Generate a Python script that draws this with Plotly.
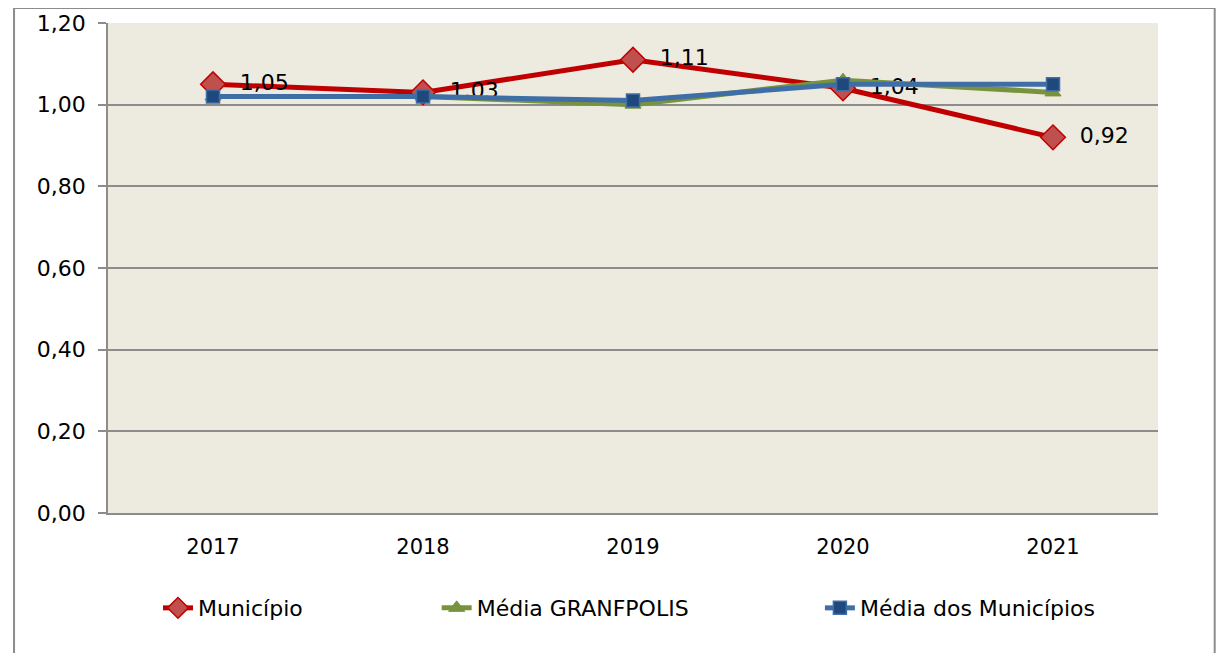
import plotly.graph_objects as go

# --- dados ---------------------------------------------------------------
anos = ["2017", "2018", "2019", "2020", "2021"]
municipio = [1.05, 1.03, 1.11, 1.04, 0.92]
media_granfpolis = [1.02, 1.02, 1.00, 1.06, 1.03]
media_municipios = [1.02, 1.02, 1.01, 1.05, 1.05]
rotulos_municipio = ["1,05", "1,03", "1,11", "1,04", "0,92"]
y_ticks = [0, 0.2, 0.4, 0.6, 0.8, 1.0, 1.2]
y_ticklabels = ["0,00", "0,20", "0,40", "0,60", "0,80", "1,00", "1,20"]

FONT = "DejaVu Sans, sans-serif"
NB = "\u00a0"

fig = go.Figure()

fig.add_trace(go.Scatter(
    x=anos, y=municipio, name="Município", mode="lines+markers+text",
    text=[NB * 2 + t for t in rotulos_municipio], textposition="middle right",
    textfont=dict(family=FONT, size=22, color="black"),
    line=dict(color="#C00000", width=5),
    marker=dict(symbol="diamond", size=19, color="#C0504D",
                line=dict(color="#C00000", width=1.5)),
    legend="legend",
))
fig.add_trace(go.Scatter(
    x=anos, y=media_granfpolis, name="Média GRANFPOLIS", mode="lines+markers",
    line=dict(color="#77933C", width=5),
    marker=dict(symbol="triangle-up", size=14, color="#77933C",
                line=dict(color="#77933C", width=1)),
    legend="legend2",
))
fig.add_trace(go.Scatter(
    x=anos, y=media_municipios, name="Média dos Municípios", mode="lines+markers",
    line=dict(color="#3F6EA6", width=5),
    marker=dict(symbol="square", size=13, color="#1F497D",
                line=dict(color="#3F6EA6", width=1.5)),
    legend="legend3",
))

# moldura externa do gráfico
fig.add_shape(type="rect", xref="paper", yref="paper",
              x0=-0.0895, x1=1.054, y0=-0.4, y1=1.0306,
              line=dict(color="#8C8C8C", width=2), fillcolor="rgba(0,0,0,0)",
              layer="below")

fig.update_xaxes(
    type="category", range=[-0.5, 4.5], automargin=False,
    showgrid=False, showline=True, linecolor="#8C8C8C", linewidth=1.5,
    ticks="", tickfont=dict(family=FONT, size=21, color="black"),
    ticklabelstandoff=14,
)
fig.update_yaxes(
    range=[0, 1.2], tickvals=y_ticks, ticktext=y_ticklabels, automargin=False,
    showgrid=True, gridcolor="#8C8C8C", gridwidth=1.5,
    showline=True, linecolor="#8C8C8C", linewidth=1.5,
    ticks="outside", ticklen=8, tickcolor="#8C8C8C", tickwidth=1.5,
    tickfont=dict(family=FONT, size=22, color="black"),
    ticklabelstandoff=8, zeroline=False,
)

leg = dict(orientation="h", y=-0.194, yanchor="middle", xanchor="left",
           font=dict(family=FONT, size=22, color="black"),
           bgcolor="rgba(0,0,0,0)")

fig.update_layout(
    width=1208, height=645,
    margin=dict(l=100, r=58, t=15, b=140),
    plot_bgcolor="#EDEAE0", paper_bgcolor="white",
    showlegend=True,
    legend=dict(leg, x=0.0476),
    legend2=dict(leg, x=0.313),
    legend3=dict(leg, x=0.678),
)

fig.write_html("out.html")
